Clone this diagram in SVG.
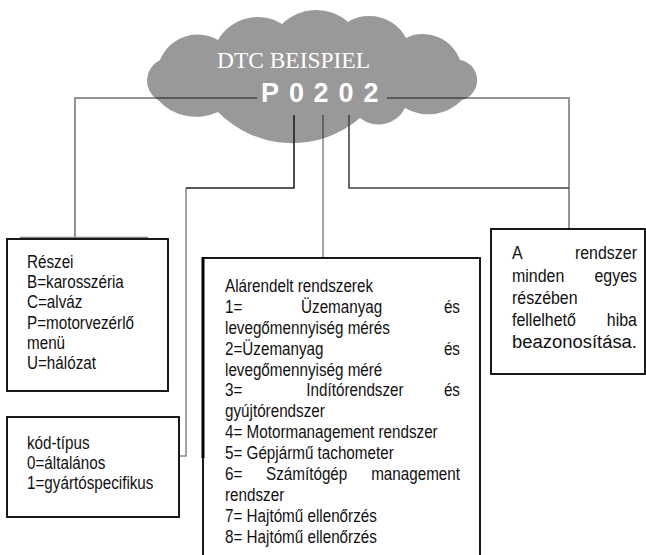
<svg xmlns="http://www.w3.org/2000/svg" width="646" height="555" viewBox="0 0 646 555">
<style>
.box{fill:#fff;stroke:#000;stroke-width:1.8}
.t{font-family:"Liberation Sans",Arial,sans-serif;font-size:17.5px;fill:#111}
.tr{font-family:"Liberation Sans",Arial,sans-serif;font-size:19px;fill:#111}
.g{fill:none;stroke:#000;stroke-opacity:.42;stroke-width:2}
.d{fill:none;stroke:#222;stroke-width:1.6}
.d2{fill:none;stroke:#444;stroke-width:1.6}
.m{fill:none;stroke:#000;stroke-opacity:.45;stroke-width:1.6}
</style>
<rect width="646" height="555" fill="#fff"/>
<g id="cloud">
<path fill="#999" d="M158 100 A22.7 22.7 0 0 1 160 60 A40.5 40.5 0 0 1 218 40 A45.9 45.9 0 0 1 282 24 A48.4 48.4 0 0 1 348 22 A41.3 41.3 0 0 1 406 38 A39.2 39.2 0 0 1 460 60 A20.5 20.5 0 0 1 462 100 A46.5 46.5 0 0 1 405 108 A29.5 29.5 0 0 1 360 118 A104 104 0 0 1 218 112 A51.8 51.8 0 0 1 158 100 Z"/>
<text x="217" y="68" textLength="153" lengthAdjust="spacingAndGlyphs" font-family="Liberation Serif,Times New Roman,serif" font-size="23" fill="#fff">DTC BEISPIEL</text>
<text x="270 296.5 321 346 371" y="102" text-anchor="middle" font-family="Liberation Sans,Arial,sans-serif" font-size="27" font-weight="bold" fill="#fff">P0202</text>
</g>
<g id="connectors">
<path class="g" d="M257 98 H75 V240"/>
<path class="g" d="M387 98 H569 V229"/>
<path class="d" d="M294 115 V188 H186"/>
<path class="m" d="M186 188 V456 H179"/>
<path class="m" d="M323 115 V258"/>
<path class="d2" d="M349 115 V188 H569"/>
</g>
<g id="node-reszei">
<line x1="20" y1="237.5" x2="148" y2="237.5" stroke="#888" stroke-width="1.5"/>
<rect class="box" x="7" y="239" width="161" height="152"/>
<g transform="translate(27,0) scale(0.87,1)">
<text class="t" x="0" y="268">Részei</text>
<text class="t" x="0" y="288.2">B=karosszéria</text>
<text class="t" x="0" y="308.4">C=alváz</text>
<text class="t" x="0" y="328.6">P=motorvezérlő</text>
<text class="t" x="0" y="348.8">menü</text>
<text class="t" x="0" y="369">U=hálózat</text>
</g>
</g>
<g id="node-kod">
<rect class="box" x="7" y="417" width="172" height="100"/>
<g transform="translate(27,0) scale(0.87,1)">
<text class="t" x="0" y="449">kód-típus</text>
<text class="t" x="0" y="469">0=általános</text>
<text class="t" x="0" y="489">1=gyártóspecifikus</text>
</g>
</g>
<g id="node-alarendelt">
<rect class="box" x="203" y="258" width="277" height="310" stroke-width="2"/>
<line x1="203" y1="257" x2="203" y2="458" stroke="#000" stroke-width="3"/>
<g transform="translate(225,0) scale(0.87,1)">
<text class="t" x="0" y="292">Alárendelt rendszerek</text>
<text class="t" x="0" y="312.9">1=</text><text class="t" x="134.1" y="312.9" text-anchor="middle">Üzemanyag</text><text class="t" x="270.1" y="312.9" text-anchor="end">és</text>
<text class="t" x="0" y="333.8">levegőmennyiség mérés</text>
<text class="t" x="0" y="354.7">2=Üzemanyag</text><text class="t" x="270.1" y="354.7" text-anchor="end">és</text>
<text class="t" x="0" y="375.6">levegőmennyiség méré</text>
<text class="t" x="0" y="396.5">3=</text><text class="t" x="149.4" y="396.5" text-anchor="middle">Indítórendszer</text><text class="t" x="270.1" y="396.5" text-anchor="end">és</text>
<text class="t" x="0" y="417.4">gyújtórendszer</text>
<text class="t" x="0" y="438.3">4= Motormanagement rendszer</text>
<text class="t" x="0" y="459.2">5= Gépjármű tachometer</text>
<text class="t" x="0" y="480.1">6=</text><text class="t" x="93.9" y="480.1" text-anchor="middle">Számítógép</text><text class="t" x="270.1" y="480.1" text-anchor="end">management</text>
<text class="t" x="0" y="501">rendszer</text>
<text class="t" x="0" y="521.9">7= Hajtómű ellenőrzés</text>
<text class="t" x="0" y="542.8">8= Hajtómű ellenőrzés</text>
</g>
</g>
<g id="node-hiba">
<rect class="box" x="491" y="229" width="154" height="145"/>
<g transform="translate(512,0) scale(0.84,1)">
<text class="tr" x="0" y="259.5">A</text><text class="tr" x="148.8" y="259.5" text-anchor="end">rendszer</text>
<text class="tr" x="0" y="281.7">minden</text><text class="tr" x="148.8" y="281.7" text-anchor="end">egyes</text>
<text class="tr" x="0" y="304">részében</text>
<text class="tr" x="0" y="326.2">fellelhető</text><text class="tr" x="148.8" y="326.2" text-anchor="end">hiba</text>
<text class="tr" x="0" y="348.5" textLength="148.8" lengthAdjust="spacingAndGlyphs">beazonosítása.</text>
</g>
</g>
</svg>
